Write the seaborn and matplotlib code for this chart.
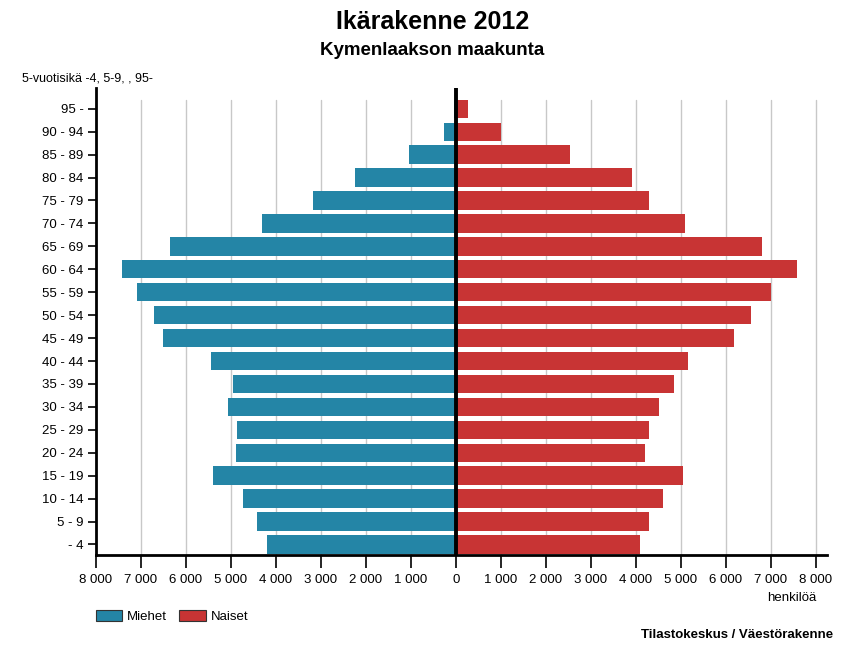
import pandas as pd
import seaborn as sns
import matplotlib.pyplot as plt
from matplotlib.patches import Patch
from matplotlib.ticker import FuncFormatter, MultipleLocator

# ikäryhmät ylhäältä alas
ages = ["95 -", "90 - 94", "85 - 89", "80 - 84", "75 - 79", "70 - 74", "65 - 69",
        "60 - 64", "55 - 59", "50 - 54", "45 - 49", "40 - 44", "35 - 39",
        "30 - 34", "25 - 29", "20 - 24", "15 - 19", "10 - 14", "5 - 9", "- 4"]
miehet = [40, 270, 1045, 2240, 3165, 4315, 6350, 7420, 7095, 6720, 6505,
          5440, 4950, 5075, 4860, 4880, 5405, 4725, 4415, 4190]
naiset = [260, 1000, 2540, 3920, 4300, 5100, 6810, 7580, 7015, 6565, 6180,
          5170, 4860, 4525, 4300, 4215, 5040, 4615, 4295, 4105]

blue = "#2485a6"
red = "#c83434"

sns.set_style("white")
plt.rcParams["font.family"] = ["Liberation Sans", "DejaVu Sans"]
plt.rcParams["text.color"] = "black"
plt.rcParams["xtick.color"] = "black"
plt.rcParams["ytick.color"] = "black"

df = pd.DataFrame({
    "ika": ages * 2,
    "arvo": [-v for v in miehet] + naiset,
    "sukupuoli": ["Miehet"] * len(ages) + ["Naiset"] * len(ages),
})

fig = plt.figure(figsize=(8.65, 6.48), dpi=100)
ax = fig.add_axes([0.111, 0.1435, 0.845, 0.7205])

# pystysuorat apuviivat
for x in range(-7000, 8001, 1000):
    if x != 0:
        ax.plot([x, x], [len(ages) - 1 + 0.46, -0.4], color="#c8c8c8", lw=1, zorder=0)

sns.barplot(data=df, x="arvo", y="ika", hue="sukupuoli", order=ages,
            palette={"Miehet": blue, "Naiset": red}, dodge=False, saturation=1,
            width=0.8, linewidth=0, legend=False, ax=ax, zorder=2)

ax.axvline(0, color="black", lw=2.8, zorder=3)

ax.set_xlim(-8000, 8250)
ax.set_ylim(len(ages) - 1 + 0.46, -0.9)
ax.xaxis.set_major_locator(MultipleLocator(1000))
ax.xaxis.set_major_formatter(FuncFormatter(lambda v, p: f"{abs(v):,.0f}".replace(",", " ")))
ax.set_xlabel("")
ax.set_ylabel("")

for s in ["top", "right"]:
    ax.spines[s].set_visible(False)
for s in ["left", "bottom"]:
    ax.spines[s].set_linewidth(2)
    ax.spines[s].set_color("black")
ax.tick_params(axis="x", length=9, width=1.2, labelsize=9.5, pad=5, direction="out", bottom=True)
ax.tick_params(axis="y", length=6, width=1.2, labelsize=9.5, pad=3, direction="out", left=True)

fig.text(0.5, 0.966, "Ikärakenne 2012", ha="center", va="center", fontsize=18, fontweight="bold")
fig.text(0.5, 0.922, "Kymenlaakson maakunta", ha="center", va="center", fontsize=13.5, fontweight="bold")
fig.text(0.025, 0.879, "5-vuotisikä -4, 5-9, , 95-", ha="left", va="center", fontsize=9)
fig.text(0.944, 0.077, "henkilöä", ha="right", va="center", fontsize=9.5)
fig.text(0.963, 0.02, "Tilastokeskus / Väestörakenne", ha="right", va="center", fontsize=9.5, fontweight="bold")

handles = [Patch(facecolor=blue, edgecolor="#333333", lw=0.8, label="Miehet"),
           Patch(facecolor=red, edgecolor="#333333", lw=0.8, label="Naiset")]
fig.legend(handles=handles, loc="center left", bbox_to_anchor=(0.103, 0.049), ncol=2,
           frameon=False, fontsize=9.5, handlelength=2.0, handleheight=1.0,
           handletextpad=0.4, columnspacing=0.9, borderpad=0)

fig.savefig("out.png", dpi=100)
